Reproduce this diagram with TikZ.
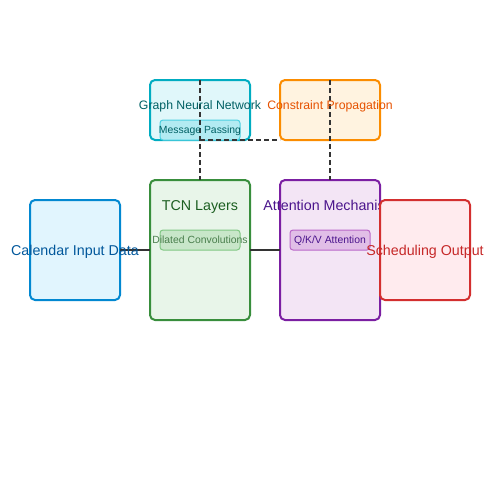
\documentclass[tikz,border=0pt]{standalone}
\usepackage{fontspec}
\setmainfont{Liberation Sans}
\begin{document}
\begin{tikzpicture}[x=0.75pt,y=-0.75pt,
  box/.style={draw,line width=1.5pt,rounded corners=3.75pt,inner sep=0pt,outer sep=0pt,anchor=north west},
  sub/.style={draw,line width=0.75pt,rounded corners=2.25pt,inner sep=0pt,outer sep=0pt,anchor=north west,minimum width=60pt,minimum height=15pt},
  title/.style={font=\fontsize{10.7pt}{12pt}\selectfont,inner sep=0pt,anchor=base},
  mid/.style={font=\fontsize{9.2pt}{11pt}\selectfont,inner sep=0pt,anchor=base},
  small/.style={font=\fontsize{7.8pt}{9pt}\selectfont,inner sep=0pt,anchor=base},
  flow/.style={draw=black!80,line width=1.1pt},
  dflow/.style={draw=black!80,line width=1.1pt,dash pattern=on 3.75pt off 2.25pt}]
\useasboundingbox (0,0) rectangle (500,500);
\definecolor{calF}{HTML}{E1F5FE}\definecolor{calD}{HTML}{0288D1}\definecolor{calT}{HTML}{01579B}
\definecolor{tcnF}{HTML}{E8F5E9}\definecolor{tcnD}{HTML}{388E3C}\definecolor{tcnT}{HTML}{1B5E20}
\definecolor{tcnSF}{HTML}{C8E6C9}\definecolor{tcnSD}{HTML}{81C784}
\definecolor{attF}{HTML}{F3E5F5}\definecolor{attD}{HTML}{7B1FA2}\definecolor{attT}{HTML}{4A148C}
\definecolor{attSF}{HTML}{E1BEE7}\definecolor{attSD}{HTML}{BA68C8}
\definecolor{schF}{HTML}{FFEBEE}\definecolor{schD}{HTML}{D32F2F}\definecolor{schT}{HTML}{C62828}
\definecolor{gnnF}{HTML}{E0F7FA}\definecolor{gnnD}{HTML}{00ACC1}\definecolor{gnnT}{HTML}{006064}
\definecolor{gnnSF}{HTML}{B2EBF2}\definecolor{gnnSD}{HTML}{4DD0E1}
\definecolor{cpF}{HTML}{FFF3E0}\definecolor{cpD}{HTML}{FB8C00}\definecolor{cpT}{HTML}{E65100}

% boxes
\node[box,fill=calF,draw=calD,minimum width=67.5pt,minimum height=75pt] (cal) at (30,200) {};
\node[box,fill=tcnF,draw=tcnD,minimum width=75pt,minimum height=105pt] (tcn) at (150,180) {};
\node[sub,fill=tcnSF,draw=tcnSD] (tcns) at (160,230) {};
\node[box,fill=gnnF,draw=gnnD,minimum width=75pt,minimum height=45pt] (gnn) at (150,80) {};
\node[sub,fill=gnnSF,draw=gnnSD] (gnns) at (160,120) {};
\node[box,fill=cpF,draw=cpD,minimum width=75pt,minimum height=45pt] (cp) at (280,80) {};
\node[box,fill=attF,draw=attD,minimum width=75pt,minimum height=105pt] (att) at (280,180) {};
\node[sub,fill=attSF,draw=attSD] (atts) at (290,230) {};
\node[title,text=attT] (attt) at (330,210) {Attention Mechanism};

% connectors
\draw[flow] (cal.east) -- (tcn.west);
\draw[flow] (tcn.east) -- (att.west);
\draw[dflow] (gnn.north) -- (tcn.north);
\draw[dflow] (gnn.south) -- (cp.south west);
\draw[dflow] (cp.north) -- (att.north);

% scheduling output covers attention title
\node[box,fill=schF,draw=schD,minimum width=67.5pt,minimum height=75pt] (sch) at (380,200) {};

% texts
\node[title,text=calT] (calt) at (75,255) {Calendar Input Data};
\node[title,text=tcnT] (tcnt) at (200,210) {TCN Layers};
\node[small,text=tcnT!80] (tcnst) at (200,243) {Dilated Convolutions};
\node[mid,text=gnnT] (gnnt) at (200,109.5) {Graph Neural Network};
\node[small,text=gnnT] (gnnst) at (200,133) {Message Passing};
\node[mid,text=cpT] (cpt) at (330,109.5) {Constraint Propagation};
\node[small,text=attT] (attst) at (330,243) {Q/K/V Attention};
\node[title,text=schT] (scht) at (425,255) {Scheduling Output};
\end{tikzpicture}
\end{document}
